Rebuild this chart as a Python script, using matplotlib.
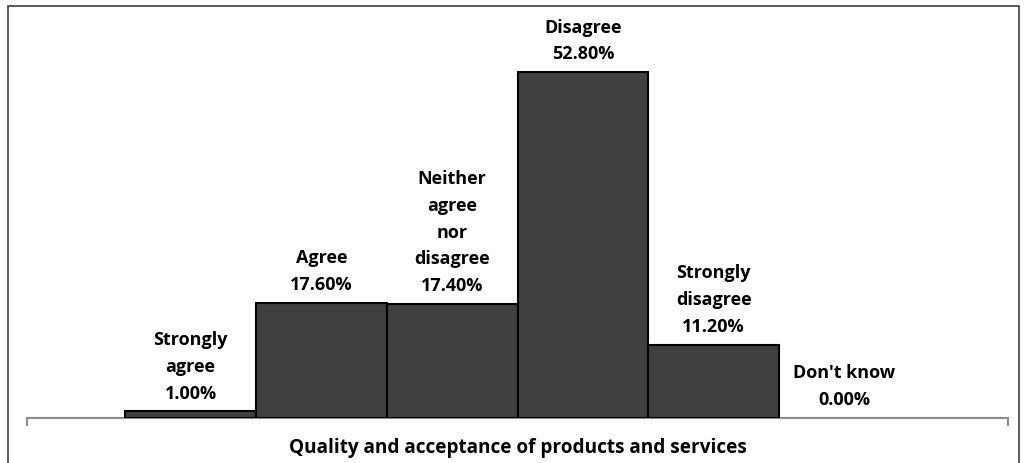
import matplotlib
matplotlib.use("Agg")
import matplotlib.pyplot as plt
from matplotlib.patches import Rectangle

# datos
etiquetas = ["Strongly\nagree", "Agree", "Neither\nagree\nnor\ndisagree", "Disagree", "Strongly\ndisagree", "Don't know"]
valores = [1.0, 17.6, 17.4, 52.8, 11.2, 0.0]
titulo = "Quality and acceptance of products and services"

plt.rcParams['font.family'] = ['Open Sans', 'DejaVu Sans']

fig = plt.figure(figsize=(10.28, 4.64), dpi=100)
W, H = 1028, 464
ax = fig.add_axes([27 / W, 1 - 419 / H, (1008 - 27) / W, (419 - 20) / H])

x = list(range(len(valores)))
bordes = ["black" if v > 0 else "none" for v in valores]
ax.bar(x, valores, width=1.0, color="#404040", edgecolor=bordes, linewidth=1.5, zorder=3)

for i, v in enumerate(valores):
    ax.annotate(f"{etiquetas[i]}\n{v:.2f}%", (i, v), xytext=(0, 7), textcoords="offset points",
                ha="center", va="bottom", fontsize=13, fontweight="bold", linespacing=1.63)

ax.set_xlim(-1.25, len(valores) + 0.25)
ax.set_ylim(0, 60.9)
for s in ["top", "right", "left"]:
    ax.spines[s].set_visible(False)
ax.spines["bottom"].set_color("#8c8c8c")
ax.spines["bottom"].set_linewidth(1.5)
ax.set_yticks([])
ax.set_xticks([-1.25, len(valores) + 0.25])
ax.set_xticklabels(["", ""])
ax.tick_params(axis="x", length=6, width=1.5, color="#8c8c8c")

fig.text(518 / W, 1 - 448 / H, titulo, ha="center", va="center", fontsize=13.7, fontweight="bold")

# marco exterior
fig.patches.append(Rectangle((8 / W, -0.01), (1019 - 8) / W, 1.01 - 7 / H, transform=fig.transFigure,
                             fill=False, edgecolor="#404040", linewidth=1.2))

fig.savefig("out.png", dpi=100)
